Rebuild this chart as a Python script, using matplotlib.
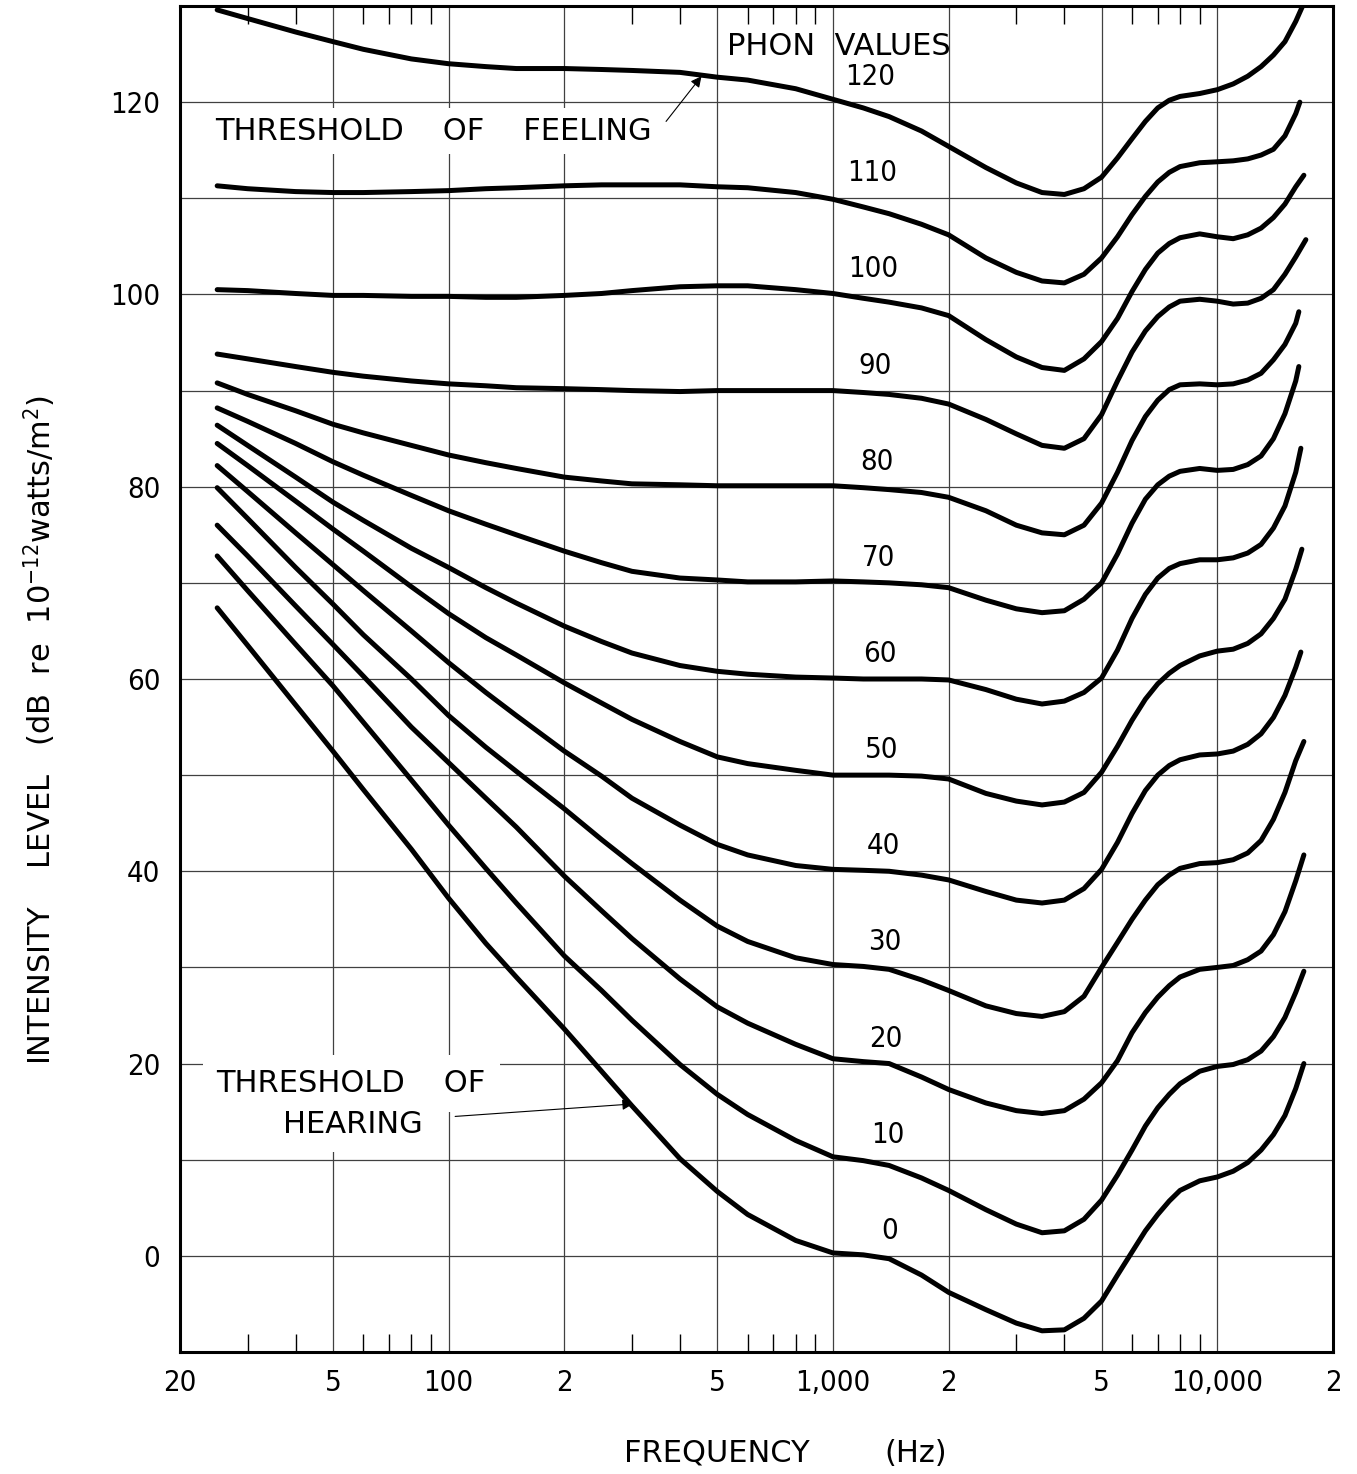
import numpy as np
import matplotlib
matplotlib.use("Agg")
import matplotlib.pyplot as plt
from matplotlib.ticker import FixedLocator, FixedFormatter, NullFormatter

# equal-loudness contours (dB at each frequency)
freq_hz = [25, 30, 40, 50, 60, 80, 100, 125, 150, 200, 250, 300, 400, 500, 600, 800,
           1000, 1200, 1400, 1700, 2000, 2500, 3000, 3500, 4000, 4500, 5000, 5500,
           6000, 6500, 7000, 7500, 8000, 9000, 10000, 11000, 12000, 13000, 14000,
           15000, 16000]

phon_values = [0, 10, 20, 30, 40, 50, 60, 70, 80, 90, 100, 110, 120]

level_0 = [67.4, 63.5, 57.3, 52.5, 48.5, 42.3, 37.2, 32.5, 29.0, 23.6,
           19.2, 15.6, 10.1, 6.7, 4.3, 1.6, 0.3, 0.1, -0.3, -2.0,
           -3.8, -5.6, -7.0, -7.8, -7.7, -6.5, -4.7, -2.0, 0.4, 2.6,
           4.3, 5.7, 6.8, 7.8, 8.2, 8.8, 9.7, 11.0, 12.6, 14.6, 17.4]
level_10 = [72.8, 69.2, 63.6, 59.3, 55.5, 49.5, 44.8, 40.3, 36.7, 31.2,
            27.6, 24.5, 19.9, 16.8, 14.7, 12.0, 10.3, 9.9, 9.4, 8.1,
            6.8, 4.8, 3.3, 2.4, 2.6, 3.8, 5.8, 8.4, 11.0, 13.5,
            15.4, 16.8, 17.9, 19.2, 19.7, 19.9, 20.4, 21.3, 22.8, 24.8, 27.4]
level_20 = [76.0, 72.8, 67.6, 63.6, 60.3, 55.0, 51.3, 47.6, 44.6, 39.5,
            35.9, 33.0, 28.8, 25.9, 24.2, 22.0, 20.5, 20.2, 20.0, 18.6,
            17.3, 15.9, 15.1, 14.8, 15.1, 16.3, 18.0, 20.3, 23.2, 25.3,
            26.9, 28.1, 29.0, 29.8, 30.0, 30.2, 30.8, 31.7, 33.4, 35.8, 39.0]
level_30 = [79.9, 76.7, 71.6, 67.8, 64.6, 60.0, 56.2, 52.9, 50.4, 46.5,
            43.3, 40.8, 37.0, 34.3, 32.7, 31.0, 30.3, 30.1, 29.8, 28.7,
            27.6, 26.0, 25.2, 24.9, 25.4, 27.0, 30.0, 32.6, 35.0, 37.0,
            38.6, 39.6, 40.3, 40.8, 40.9, 41.2, 41.9, 43.2, 45.4, 48.2, 51.5]
level_40 = [82.2, 79.5, 75.2, 71.9, 69.2, 65.0, 61.7, 58.6, 56.2, 52.5,
            49.9, 47.6, 44.8, 42.8, 41.7, 40.6, 40.2, 40.1, 40.0, 39.6,
            39.1, 37.9, 37.0, 36.7, 37.0, 38.2, 40.2, 43.0, 46.0, 48.4,
            50.0, 51.0, 51.6, 52.1, 52.2, 52.5, 53.2, 54.3, 56.0, 58.3, 61.2]
level_50 = [84.5, 82.2, 78.5, 75.6, 73.3, 69.6, 66.8, 64.3, 62.5, 59.6,
            57.5, 55.8, 53.5, 51.9, 51.2, 50.5, 50.0, 50.0, 50.0, 49.9,
            49.6, 48.1, 47.3, 46.9, 47.2, 48.2, 50.3, 53.0, 55.7, 57.9,
            59.5, 60.6, 61.4, 62.4, 62.9, 63.1, 63.7, 64.7, 66.3, 68.3, 71.4]
level_60 = [86.4, 84.3, 81.0, 78.4, 76.5, 73.6, 71.6, 69.5, 67.9, 65.5,
            63.9, 62.7, 61.4, 60.8, 60.5, 60.2, 60.1, 60.0, 60.0, 60.0,
            59.9, 58.9, 57.9, 57.4, 57.7, 58.6, 60.1, 63.0, 66.3, 68.8,
            70.5, 71.5, 72.0, 72.4, 72.4, 72.6, 73.1, 74.0, 75.7, 78.0, 81.5]
level_70 = [88.2, 86.8, 84.5, 82.6, 81.2, 79.1, 77.5, 76.1, 75.0, 73.3,
            72.1, 71.2, 70.5, 70.3, 70.1, 70.1, 70.2, 70.1, 70.0, 69.8,
            69.5, 68.2, 67.3, 66.9, 67.1, 68.3, 70.0, 73.0, 76.2, 78.7,
            80.2, 81.1, 81.6, 81.9, 81.7, 81.8, 82.3, 83.2, 85.0, 87.6, 91.0]
level_80 = [90.8, 89.6, 87.9, 86.5, 85.6, 84.3, 83.3, 82.5, 81.9, 81.0,
            80.6, 80.3, 80.2, 80.1, 80.1, 80.1, 80.1, 79.9, 79.7, 79.4,
            78.9, 77.5, 76.0, 75.2, 75.0, 76.0, 78.3, 81.5, 84.8, 87.3,
            89.0, 90.1, 90.6, 90.7, 90.6, 90.7, 91.1, 91.8, 93.2, 94.8, 97.0]
level_90 = [93.8, 93.3, 92.5, 91.9, 91.5, 91.0, 90.7, 90.5, 90.3, 90.2,
            90.1, 90.0, 89.9, 90.0, 90.0, 90.0, 90.0, 89.8, 89.6, 89.2,
            88.6, 87.0, 85.5, 84.3, 84.0, 85.0, 87.5, 91.0, 94.0, 96.2,
            97.7, 98.7, 99.3, 99.5, 99.3, 99.0, 99.1, 99.6, 100.5, 102.1, 103.9]
level_100 = [100.5, 100.4, 100.1, 99.9, 99.9, 99.8, 99.8, 99.7, 99.7, 99.9,
             100.1, 100.4, 100.8, 100.9, 100.9, 100.5, 100.1, 99.6, 99.2, 98.6,
             97.8, 95.3, 93.5, 92.4, 92.1, 93.3, 95.1, 97.5, 100.3, 102.6,
             104.3, 105.3, 105.9, 106.3, 106.0, 105.8, 106.2, 106.9, 108.0, 109.4, 111.2]
level_110 = [111.3, 111.0, 110.7, 110.6, 110.6, 110.7, 110.8, 111.0, 111.1, 111.3,
             111.4, 111.4, 111.4, 111.2, 111.1, 110.6, 109.9, 109.1, 108.4, 107.3,
             106.2, 103.8, 102.3, 101.4, 101.2, 102.1, 103.8, 106.0, 108.3, 110.2,
             111.7, 112.7, 113.3, 113.7, 113.8, 113.9, 114.1, 114.5, 115.1, 116.5, 118.8]
level_120 = [129.6, 128.7, 127.3, 126.3, 125.5, 124.5, 124.0, 123.7, 123.5, 123.5,
             123.4, 123.3, 123.1, 122.6, 122.3, 121.4, 120.3, 119.4, 118.5, 117.0,
             115.4, 113.2, 111.6, 110.6, 110.4, 111.0, 112.2, 114.2, 116.2, 118.0,
             119.4, 120.2, 120.6, 120.9, 121.3, 121.9, 122.7, 123.7, 124.9, 126.3, 128.4]

# last point of each contour (phon 0 .. 120)
end_freq_hz = [16800, 16800, 16800, 16800, 16500, 16600, 16500, 16300, 16300, 17000, 16800, 16400, 16800]
end_level_db = [20.0, 29.6, 41.7, 53.5, 62.8, 73.5, 84.0, 92.5, 98.2, 105.7, 112.4, 120.0, 130.3]

levels = [level_0, level_10, level_20, level_30, level_40, level_50, level_60,
          level_70, level_80, level_90, level_100, level_110, level_120]

major_ticks = [20, 50, 100, 200, 500, 1000, 2000, 5000, 10000, 20000]
major_labels = ["20", "5", "100", "2", "5", "1,000", "2", "5", "10,000", "2"]
minor_ticks = [30, 40, 60, 70, 80, 90, 300, 400, 600, 700, 800, 900,
               3000, 4000, 6000, 7000, 8000, 9000]
y_ticks = [0, 20, 40, 60, 80, 100, 120]

plt.rcParams["font.family"] = ["DejaVu Sans"]
plt.rcParams["font.stretch"] = "condensed"

fig = plt.figure(figsize=(13.57, 14.74), dpi=100)
ax = fig.add_axes([0.1326, 0.0828, 0.8497, 0.9131])

ax.set_xscale("log")
ax.set_xlim(20, 20000)
ax.set_ylim(-10, 130)

for lev, fe, le in zip(levels, end_freq_hz, end_level_db):
    ax.plot(freq_hz + [fe], lev + [le], color="black", lw=3.6,
            solid_capstyle="round", solid_joinstyle="round", zorder=4)

# grid and ticks
ax.xaxis.set_major_locator(FixedLocator(major_ticks))
ax.xaxis.set_major_formatter(FixedFormatter(major_labels))
ax.xaxis.set_minor_locator(FixedLocator(minor_ticks))
ax.xaxis.set_minor_formatter(NullFormatter())
ax.set_yticks(y_ticks)
for f in major_ticks[1:-1]:
    ax.axvline(f, color="0.25", lw=0.9, zorder=1)
for v in np.arange(0, 130, 10):
    ax.axhline(v, color="0.25", lw=0.9, zorder=1)

ax.tick_params(axis="x", which="major", length=0, pad=12, labelsize=21)
ax.tick_params(axis="x", which="minor", direction="in", length=13, width=1.0,
               top=True, bottom=True)
ax.tick_params(axis="y", which="both", length=0, pad=14, labelsize=21)
for s in ax.spines.values():
    s.set_linewidth(2.2)

# phon labels
for p in phon_values:
    ax.text(1250 * 10 ** ((120 - p) / 120 * 0.05), p + 2.6, str(p),
            fontsize=21, ha="center", va="center", zorder=5)
ax.text(530, 125.8, "PHON  VALUES", fontsize=22, fontstretch="normal",
        ha="left", va="center", zorder=5)

ax.text(24.7, 117.0, "THRESHOLD    OF    FEELING", fontsize=22, fontstretch="normal",
        ha="left", va="center", zorder=3,
        bbox=dict(facecolor="white", edgecolor="none", pad=6))
ax.annotate("", xy=(455, 122.7), xytext=(368, 118.0),
            arrowprops=dict(arrowstyle="-|>", lw=0.8, color="black",
                            mutation_scale=16, shrinkA=0, shrinkB=0), zorder=5)

ax.text(24.9, 17.9, "THRESHOLD    OF", fontsize=22, fontstretch="normal",
        ha="left", va="center", zorder=3,
        bbox=dict(facecolor="white", edgecolor="none", pad=10))
ax.text(37, 13.7, "HEARING", fontsize=22, fontstretch="normal",
        ha="left", va="center", zorder=3,
        bbox=dict(facecolor="white", edgecolor="none", pad=10))
ax.annotate("", xy=(302, 15.8), xytext=(104, 14.5),
            arrowprops=dict(arrowstyle="-|>", lw=0.8, color="black",
                            mutation_scale=16, shrinkA=0, shrinkB=0), zorder=5)

fig.text(717 / 1357, 1 - 1453 / 1474, "FREQUENCY", fontsize=22,
         fontstretch="normal", ha="center", va="center")
fig.text(916 / 1357, 1 - 1453 / 1474, "(Hz)", fontsize=22,
         fontstretch="normal", ha="center", va="center")
fig.text(40 / 1357, 1 - 730 / 1474,
         "INTENSITY    LEVEL   (dB  re  10$^{-12}$watts/m$^2$)",
         fontsize=22, fontstretch="normal", rotation=90, ha="center", va="center")

fig.savefig("out.png", dpi=100)
